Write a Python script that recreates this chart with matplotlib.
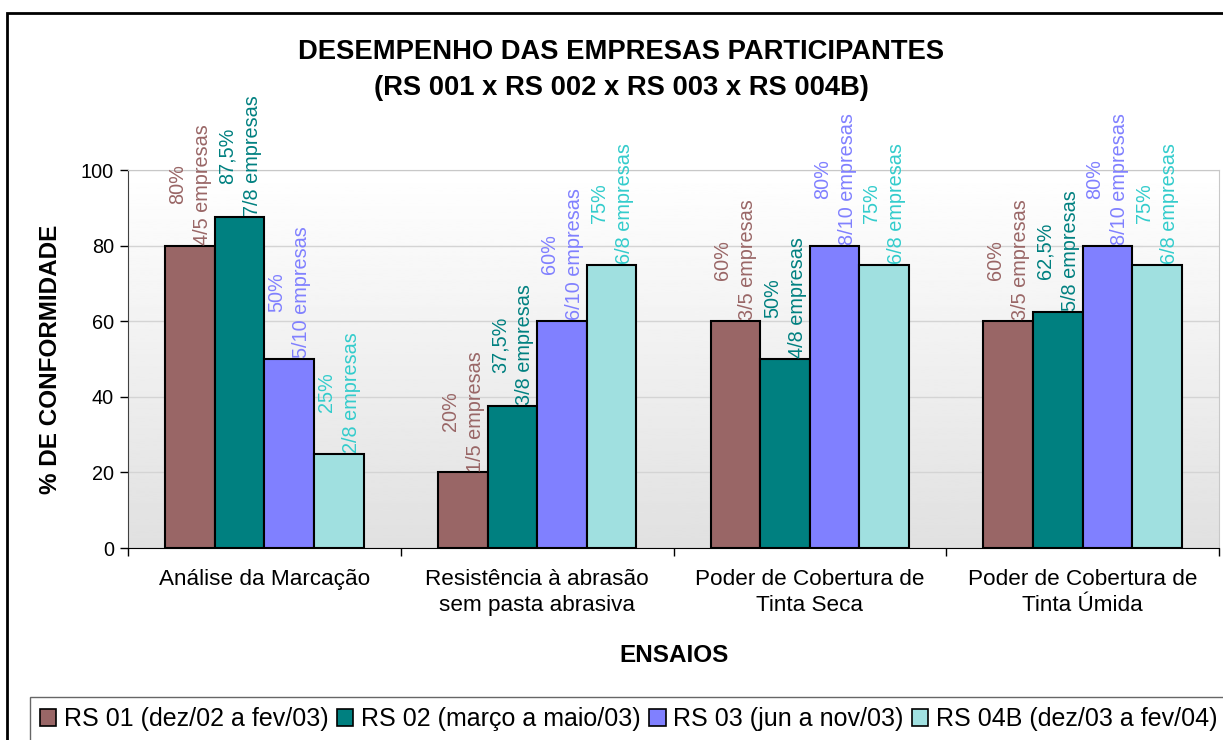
"""
Desempenho das empresas participantes - grafico de barras agrupadas
"""

import numpy as np
import matplotlib
matplotlib.use('Agg')
from matplotlib import pyplot as plt
from matplotlib.patches import Rectangle

plt.rcParams['font.family'] = ['Liberation Sans', 'DejaVu Sans']

# dados
categorias = ['Análise da Marcação',
              'Resistência à abrasão\nsem pasta abrasiva',
              'Poder de Cobertura de\nTinta Seca',
              'Poder de Cobertura de\nTinta Úmida']
series = ['RS 01 (dez/02 a fev/03)', 'RS 02 (março a maio/03)',
          'RS 03 (jun a nov/03)', 'RS 04B (dez/03 a fev/04)']
rs01 = [80, 20, 60, 60]
rs02 = [87.5, 37.5, 50, 62.5]
rs03 = [50, 60, 80, 80]
rs04b = [25, 75, 75, 75]
rs01_emp = ['4/5', '1/5', '3/5', '3/5']
rs02_emp = ['7/8', '3/8', '4/8', '5/8']
rs03_emp = ['5/10', '6/10', '8/10', '8/10']
rs04b_emp = ['2/8', '6/8', '6/8', '6/8']

valores = [rs01, rs02, rs03, rs04b]
empresas = [rs01_emp, rs02_emp, rs03_emp, rs04b_emp]
cores = ['#996666', '#008080', '#8080FF', '#A0E0E0']
cores_txt = ['#996666', '#008080', '#8080FF', '#33CCCC']

W, H = 1223, 740
fig = plt.figure(figsize=(W / 100, H / 100), dpi=100)
ax = fig.add_axes([128 / W, 1 - 548 / H, (1219 - 128) / W, (548 - 170) / H])

# fundo em degrade (branco em cima, cinza em baixo)
grad = np.linspace(1.0, 0.88, 256).reshape(-1, 1)
ax.imshow(grad, cmap='gray', vmin=0, vmax=1, aspect='auto',
          extent=[-0.5, 3.5, 0, 100], zorder=0)

x = np.arange(len(categorias))
larg = 1 / 5.5
for i in range(4):
    pos = x + (i - 1.5) * larg
    ax.bar(pos, valores[i], larg, color=cores[i], edgecolor='black',
           linewidth=1.5, label=series[i], zorder=2)
    for p, v, e in zip(pos, valores[i], empresas[i]):
        pct = ('%g%%' % v).replace('.', ',')
        ax.text(p, v + 0.2, pct + '\n' + e + ' empresas', rotation=90,
                ha='center', va='bottom', multialignment='center',
                color=cores_txt[i], fontsize=14.3, linespacing=1.4, zorder=3)

ax.set_xlim(-0.5, 3.5)
ax.set_ylim(0, 100)
ax.set_yticks(range(0, 101, 20))
ax.yaxis.grid(True, color='#D4D4D4', linewidth=1, zorder=1)
ax.set_axisbelow(True)

ax.set_xticks(np.arange(-0.5, 3.6, 1))
ax.set_xticklabels([])
ax.set_xticks(x, minor=True)
ax.set_xticklabels(categorias, minor=True, fontsize=16.2, linespacing=1.35)
ax.tick_params(axis='x', which='minor', length=0, pad=15)
ax.tick_params(axis='x', which='major', length=6, width=1)
ax.tick_params(axis='y', labelsize=14.3, length=6, width=1, pad=4)

for s in ['top', 'right']:
    ax.spines[s].set_color('#C8C8C8')
ax.spines['left'].set_color('#404040')
ax.spines['bottom'].set_color('black')

ax.set_ylabel('% DE CONFORMIDADE', fontsize=17.5, fontweight='bold', labelpad=14)
fig.text(674 / W, 1 - 655 / H, 'ENSAIOS', fontsize=17.5, fontweight='bold',
         ha='center', va='center')

fig.text(621 / W, 1 - 52 / H, 'DESEMPENHO DAS EMPRESAS PARTICIPANTES',
         fontsize=19.7, fontweight='bold', ha='center', va='center')
fig.text(621 / W, 1 - 88 / H, '(RS 001 x RS 002 x RS 003 x RS 004B)',
         fontsize=19.7, fontweight='bold', ha='center', va='center')

# moldura externa
fig.add_artist(Rectangle((7 / W, -0.1), 1.2, 1.1 - 13 / H, transform=fig.transFigure,
                         fill=False, edgecolor='black', linewidth=2))

leg = fig.legend(loc='upper left', bbox_to_anchor=(30 / W, 1 - 697 / H), ncol=4,
                 fontsize=18, frameon=True, fancybox=False, edgecolor='#404040',
                 handlelength=0.65, handleheight=0.65, handletextpad=0.3,
                 columnspacing=0.35, borderpad=0.4, borderaxespad=0)
leg.get_frame().set_linewidth(1)
for h in leg.legend_handles:
    h.set_linewidth(1.2)

fig.savefig('out.png', dpi=100)
